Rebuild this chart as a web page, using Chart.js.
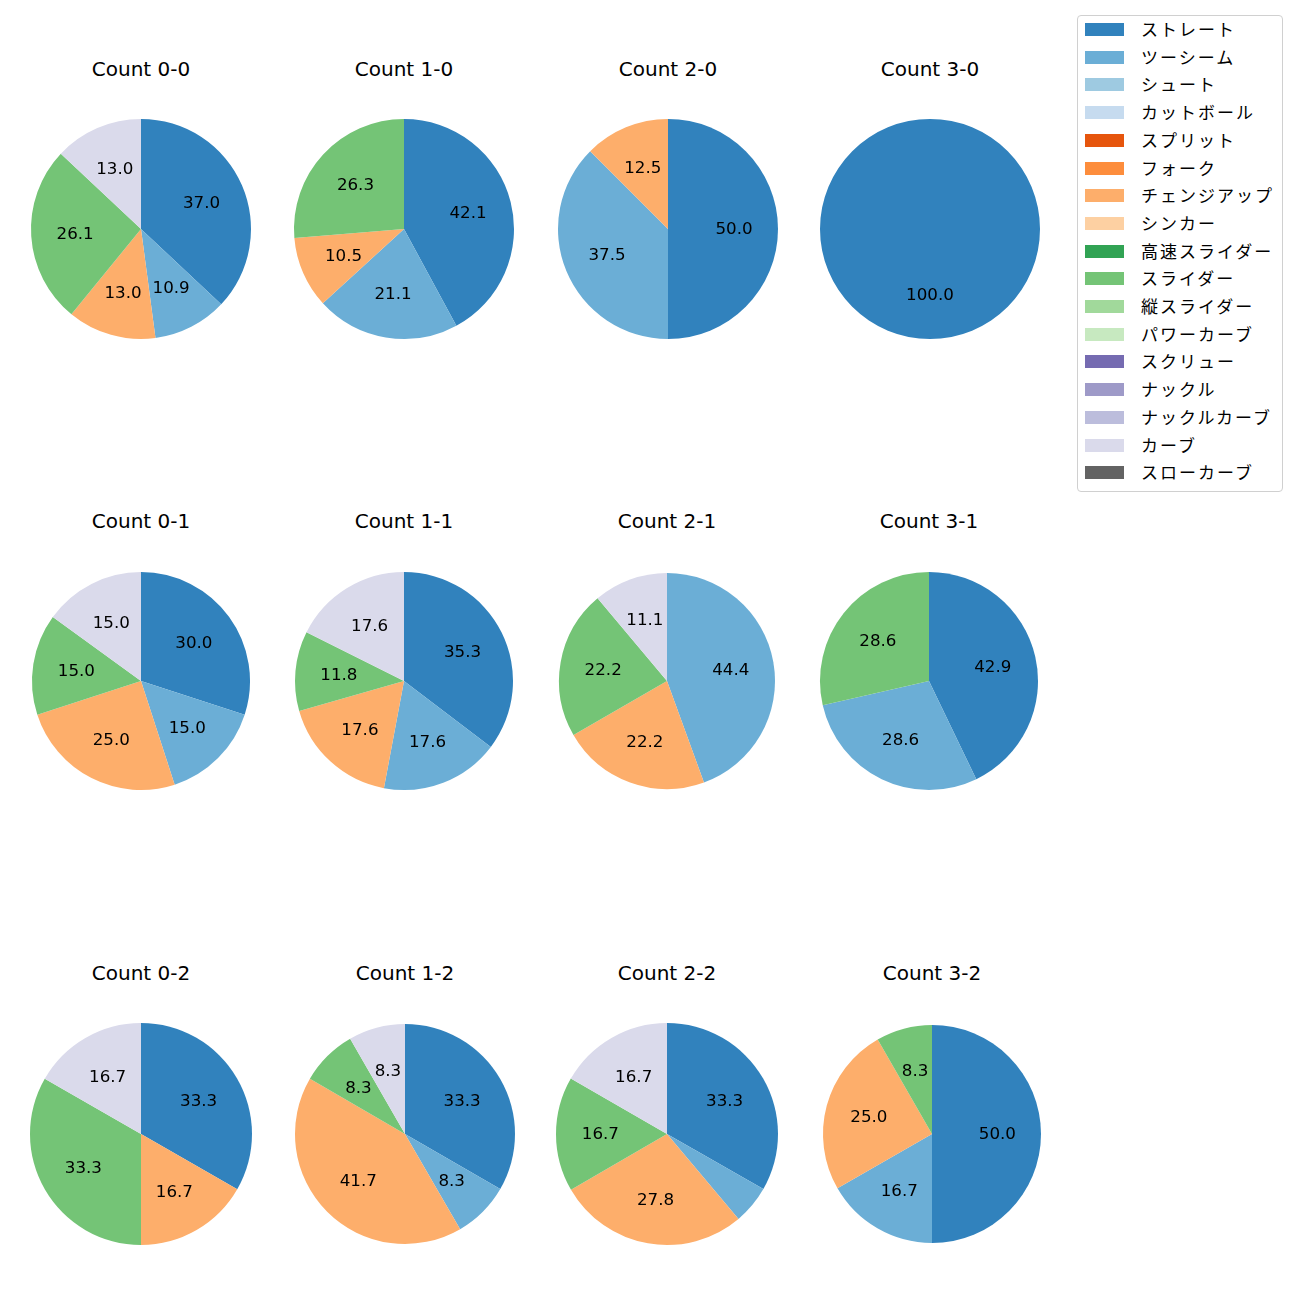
<!DOCTYPE html>
<html>
<head>
<meta charset="utf-8">
<script src="https://cdn.jsdelivr.net/npm/chart.js@4.4.0/dist/chart.umd.min.js"></script>
<style>
  html, body { margin: 0; padding: 0; background: #fff; }
  body { width: 1300px; height: 1300px; position: relative; overflow: hidden;
         font-family: "DejaVu Sans", "Noto Sans CJK JP", sans-serif; }
  .pie { position: absolute; width: 240px; height: 240px; }
  .title { position: absolute; width: 240px; text-align: center; font-size: 20px; color: #000; line-height: 24px; }
  #legend { position: absolute; left: 1077px; top: 15px; width: 206px; height: 477px;
            border: 1px solid #d0d0d0; border-radius: 4px; box-sizing: border-box; background: #fff; }
  .li { position: absolute; left: 0; height: 20px; }
  .sw { position: absolute; left: 7px; top: 4px; width: 39px; height: 13px; }
  .lt { position: absolute; left: 63px; top: -3px; font-size: 17px; white-space: nowrap; color: #000; letter-spacing: 2px;
        font-family: "Noto Sans CJK JP", sans-serif; }
</style>
</head>
<body>
<div id="legend"></div>
<script>
// pitch types (legend order)
const pitchTypes = ["ストレート","ツーシーム","シュート","カットボール","スプリット","フォーク","チェンジアップ","シンカー","高速スライダー","スライダー","縦スライダー","パワーカーブ","スクリュー","ナックル","ナックルカーブ","カーブ","スローカーブ"];
const pitchColors = ["#3182bd","#6baed6","#9ecae1","#c6dbef","#e6550d","#fd8d3c","#fdae6b","#fdd0a2","#31a354","#74c476","#a1d99b","#c7e9c0","#756bb1","#9e9ac8","#bcbddc","#dadaeb","#636363"];
const countTitles = ["Count 0-0","Count 1-0","Count 2-0","Count 3-0","Count 0-1","Count 1-1","Count 2-1","Count 3-1","Count 0-2","Count 1-2","Count 2-2","Count 3-2"];

// share (%) per count, legend order:
//               Str   2S   Sht Cut Spl Frk  CH   Snk HSl  Sl  VSl PC  Scr Kn KC  Cv   SCv
const count00 = [37.0,10.9,0,0,0,0,13.0,0,0,26.1,0,0,0,0,0,13.0,0];
const count10 = [42.1,21.1,0,0,0,0,10.5,0,0,26.3,0,0,0,0,0,0,0];
const count20 = [50.0,37.5,0,0,0,0,12.5,0,0,0,0,0,0,0,0,0,0];
const count30 = [100.0,0,0,0,0,0,0,0,0,0,0,0,0,0,0,0,0];
const count01 = [30.0,15.0,0,0,0,0,25.0,0,0,15.0,0,0,0,0,0,15.0,0];
const count11 = [35.3,17.6,0,0,0,0,17.6,0,0,11.8,0,0,0,0,0,17.6,0];
const count21 = [0,44.4,0,0,0,0,22.2,0,0,22.2,0,0,0,0,0,11.1,0];
const count31 = [42.9,28.6,0,0,0,0,0,0,0,28.6,0,0,0,0,0,0,0];
const count02 = [33.3,0,0,0,0,0,16.7,0,0,33.3,0,0,0,0,0,16.7,0];
const count12 = [33.3,8.3,0,0,0,0,41.7,0,0,8.3,0,0,0,0,0,8.3,0];
const count22 = [33.3,5.6,0,0,0,0,27.8,0,0,16.7,0,0,0,0,0,16.7,0];
const count32 = [50.0,16.7,0,0,0,0,25.0,0,0,8.3,0,0,0,0,0,0,0];
const allCounts = [count00,count10,count20,count30,count01,count11,count21,count31,count02,count12,count22,count32];

// layout
const centersX = [[141,404,668,930],[141,404,667,929],[141,405,667,932]];
const centersY = [229,681,1134];
const radii = [[110,110,110,110],[109,109,108,109],[111,110,111,109]];
const titleY = [57,509,961];

// legend
const leg = document.getElementById('legend');
pitchTypes.forEach((p,i)=>{
  const li = document.createElement('div');
  li.className='li'; li.style.top = (3 + i*27.7) + 'px';
  li.innerHTML = '<div class="sw" style="background:'+pitchColors[i]+'"></div><div class="lt">'+p+'</div>';
  leg.appendChild(li);
});

const pctLabels = {
  id: 'pctLabels',
  afterDatasetsDraw(chart) {
    const ctx = chart.ctx;
    const meta = chart.getDatasetMeta(0);
    const data = chart.data.datasets[0].data;
    ctx.save();
    ctx.font = '16.7px "DejaVu Sans", sans-serif';
    ctx.fillStyle = '#000';
    ctx.textAlign = 'center';
    ctx.textBaseline = 'middle';
    meta.data.forEach((arc,i)=>{
      const v = data[i];
      if (!v || v < 7) return;
      const p = arc.getProps(['x','y','startAngle','endAngle','outerRadius'], true);
      const mid = (p.startAngle + p.endAngle)/2;
      const r = p.outerRadius*0.6;
      ctx.fillText(v.toFixed(1), p.x + Math.cos(mid)*r, p.y + Math.sin(mid)*r + 1);
    });
    ctx.restore();
  }
};

allCounts.forEach((vals, k)=>{
  const row = Math.floor(k/4), col = k%4;
  const cx = centersX[row][col], cy = centersY[row];
  const cv = document.createElement('canvas');
  const wrap = document.createElement('div');
  wrap.className='pie';
  wrap.style.left = (cx-120)+'px'; wrap.style.top = (cy-120)+'px';
  wrap.appendChild(cv);
  document.body.appendChild(wrap);
  const t = document.createElement('div');
  t.className='title'; t.textContent = countTitles[k];
  t.style.left = (cx-120)+'px'; t.style.top = titleY[row]+'px';
  document.body.appendChild(t);
  new Chart(cv, {
    type: 'pie',
    data: { labels: pitchTypes, datasets: [{ data: vals, backgroundColor: pitchColors, borderWidth: 0 }] },
    options: {
      responsive: true, maintainAspectRatio: false, animation: false,
      radius: radii[row][col],
      layout: { padding: 0 },
      plugins: { legend: { display: false }, tooltip: { enabled: false }, title: { display: false } }
    },
    plugins: [pctLabels]
  });
});
</script>
</body>
</html>
